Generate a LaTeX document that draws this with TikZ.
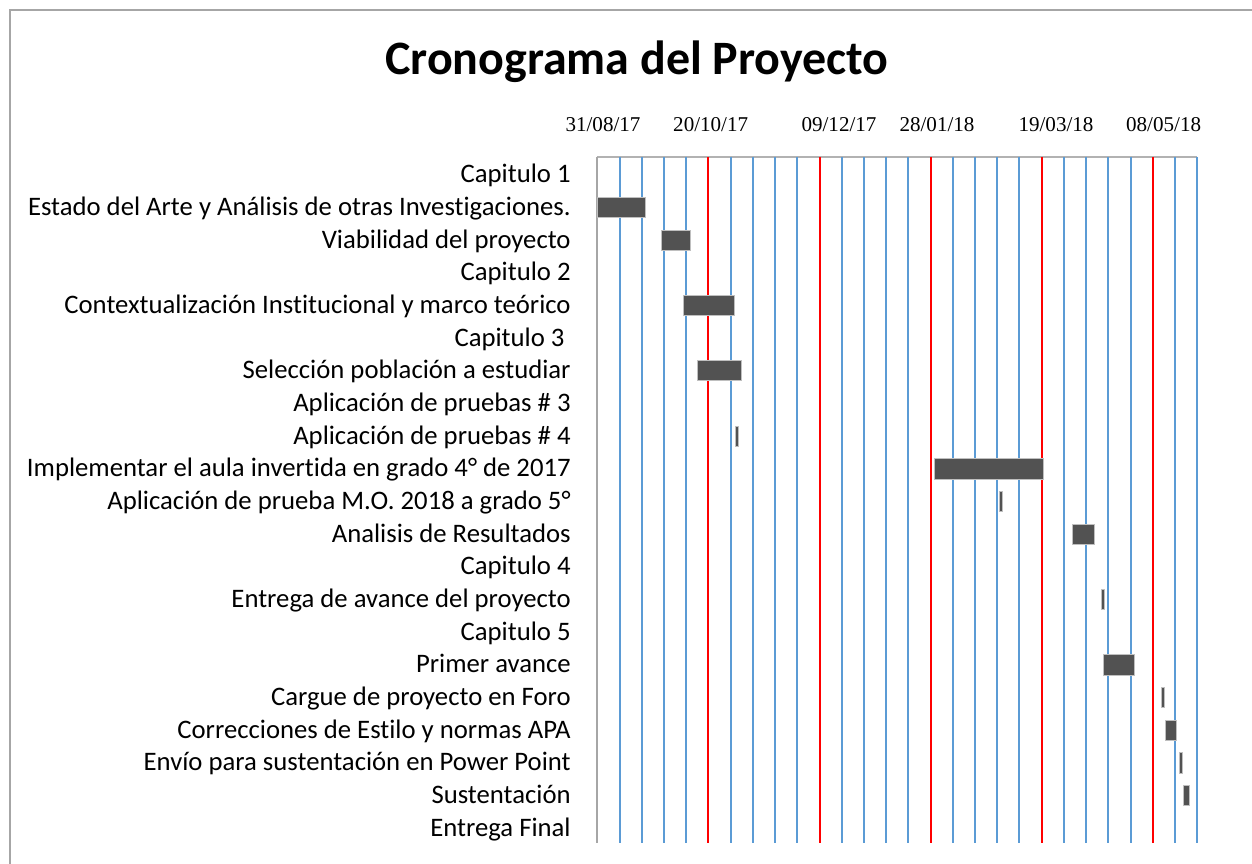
\documentclass[tikz,border=0pt]{standalone}
\usepackage{fontspec}
\setmainfont{Carlito}[Ligatures=NoCommon]
\newfontfamily\datefont{Liberation Serif}
\usetikzlibrary{calc}
\definecolor{gridblue}{HTML}{5B9BD5}
\definecolor{barfill}{HTML}{525252}
\tikzset{
 rowlabel/.style={anchor=base east, inner sep=0, font=\fontsize{15.2}{18}\selectfont},
 datelabel/.style={inner sep=0, font=\datefont\fontsize{12}{14}\selectfont},
 taskbar/.style={fill=barfill, draw=gray!50, line width=0.4pt},
 gridline/.style={line width=0.04cm}
}

\begin{document}
\begin{tikzpicture} [x=0.02cm, y=-0.02cm]
\useasboundingbox (0,0) rectangle (1252,864);
\draw[gray!70, line width=0.04cm] (10,864)--(10,10)--(1252,10);
\node[font=\bfseries\fontsize{27.3}{32}\selectfont, inner sep=0] (title) at (637,62) {Cronograma del Proyecto};
% fechas del eje
\foreach \x/\d in {603/{31/08/17}, 710.7/{20/10/17}, 839/{09/12/17}, 937/{28/01/18}, 1056/{19/03/18}, 1163.6/{08/05/18}}
 \node[datelabel] (fecha-\x) at (\x,125) {\d};
% rejilla
\draw[gray!60, gridline] (597,157)--(1197,157);
\foreach \i in {1,...,27}
 \draw[gridblue, gridline] ({round(597.3+22.22*\i)},157) --++(0,686);
\foreach \i in {5,10,...,25}
 \draw[red, gridline] ({round(597.3+22.22*\i)},157) --++(0,686);
\draw[gray!70, gridline] (597,157) --++(0,686);
% tareas
\foreach \i/\t in {0/Capitulo 1,
 1/Estado del Arte y Análisis de otras Investigaciones.,
 2/Viabilidad del proyecto,
 3/Capitulo 2,
 4/Contextualización Institucional y marco teórico,
 5/{Capitulo 3\hspace*{0.23em}},
 6/Selección población a estudiar,
 7/Aplicación de pruebas \# 3,
 8/Aplicación de pruebas \# 4,
 9/Implementar el aula invertida en grado 4° de 2017,
 10/Aplicación de prueba M.O. 2018 a grado 5°,
 11/Analisis de Resultados,
 12/Capitulo 4,
 13/Entrega de avance del proyecto,
 14/Capitulo 5,
 15/Primer avance,
 16/Cargue de proyecto en Foro,
 17/Correcciones de Estilo y normas APA,
 18/Envío para sustentación en Power Point,
 19/Sustentación,
 20/Entrega Final}
 \node[rowlabel] (tarea-\i) at (571,{157+(\i+0.5)*32.67+9.5}) {\t};
% barras (en dias desde 31/08/17)
\foreach \i/\s/\e in {1/0/21.8, 2/29/41.7, 4/38.9/61.7, 6/44.9/64.8, 8/62/63.4,
 9/151.8/200.7, 10/181/182.4, 11/213.8/223.7, 13/227/228.4, 15/227.7/241.7,
 16/253.8/255.2, 17/255.8/260.6, 18/262/263.4, 19/263.9/266.6}
 \draw[taskbar] ({597.3+2.222*\s},{157+(\i+0.5)*32.67-8.8}) rectangle ({597.3+2.222*\e},{157+(\i+0.5)*32.67+11.5});
\end{tikzpicture}
\end{document}
